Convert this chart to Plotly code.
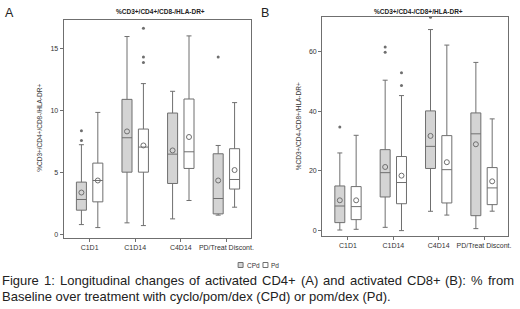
import plotly.graph_objects as go

categories = ["C1D1", "C1D14", "C4D14", "PD/Treat Discont."]

# Panel A: %CD3+/CD4+/CD8-/HLA-DR+
a_cpd_q1 = [1.99, 5.05, 4.14, 1.69]
a_cpd_med = [2.85, 7.82, 6.50, 2.93]
a_cpd_q3 = [4.25, 10.91, 9.81, 6.53]
a_cpd_lo = [0.83, 0.97, 1.29, 1.59]
a_cpd_hi = [7.26, 15.97, 11.56, 7.20]
a_cpd_mean = [3.41, 8.33, 6.80, 4.38]
a_cpd_out = [[7.6, 8.39], [], [], [14.33]]

a_pd_q1 = [2.66, 5.05, 5.35, 3.69]
a_pd_med = [4.38, 7.07, 6.69, 4.46]
a_pd_q3 = [5.78, 8.52, 10.94, 6.94]
a_pd_lo = [0.59, 0.75, 2.77, 2.23]
a_pd_hi = [9.86, 12.18, 16.02, 10.65]
a_pd_mean = [4.38, 7.20, 7.88, 5.22]
a_pd_out = [[], [13.87, 14.33, 16.64], [], []]

# Panel B: %CD3+/CD4-/CD8+/HLA-DR+
b_cpd_q1 = [2.68, 11.26, 20.8, 5.0]
b_cpd_med = [8.24, 19.4, 28.2, 32.4]
b_cpd_q3 = [14.95, 27.1, 40.07, 39.4]
b_cpd_lo = [0.2, 1.1, 6.47, 0.67]
b_cpd_hi = [26.0, 50.35, 67.3, 56.3]
b_cpd_mean = [10.15, 21.3, 31.7, 28.9]
b_cpd_out = [[34.7], [59.7, 61.5], [71.4], []]

b_pd_q1 = [3.68, 9.0, 9.26, 8.7]
b_pd_med = [8.04, 16.1, 20.4, 14.3]
b_pd_q3 = [14.74, 24.8, 31.8, 21.1]
b_pd_lo = [0.44, 0.0, 5.2, 6.5]
b_pd_hi = [31.9, 45.2, 62.1, 37.4]
b_pd_mean = [10.15, 18.4, 22.9, 16.5]
b_pd_out = [[], [48.6, 52.8], [], []]

title_a = "%CD3+/CD4+/CD8-/HLA-DR+"
title_b = "%CD3+/CD4-/CD8+/HLA-DR+"
legend_names = ["CPd", "Pd"]
caption_1 = "Figure 1: Longitudinal changes of activated CD4+ (A) and activated CD8+ (B): % from"
caption_2 = "Baseline over treatment with cyclo/pom/dex (CPd) or pom/dex (Pd)."

LINE = "#6f6f6f"
CPD_FILL = "#d4d4d4"
PD_FILL = "#ffffff"
OFF = 0.18
BW = 0.22
FONT = "Liberation Sans, Arial"

fig = go.Figure()

def add_panel(xa, ya, groups):
    for name, fill, sign, q1, med, q3, lo, hi, mean, outs in groups:
        xs = [i + sign * OFF for i in range(len(categories))]
        fig.add_trace(go.Box(
            x=xs, q1=q1, median=med, q3=q3, lowerfence=lo, upperfence=hi,
            name=name, fillcolor=fill, width=BW, whiskerwidth=0.5,
            line=dict(color=LINE, width=1), boxpoints=False,
            xaxis=xa, yaxis=ya, showlegend=False, hoverinfo="skip"))
        fig.add_trace(go.Scatter(
            x=xs, y=mean, mode="markers", xaxis=xa, yaxis=ya,
            marker=dict(symbol="circle-open", size=5, color=LINE, line=dict(width=1)),
            showlegend=False, hoverinfo="skip"))
        ox, oy = [], []
        for i, vals in enumerate(outs):
            for v in vals:
                ox.append(i + sign * OFF)
                oy.append(v)
        fig.add_trace(go.Scatter(
            x=ox, y=oy, mode="markers", xaxis=xa, yaxis=ya,
            marker=dict(symbol="circle", size=3, color=LINE),
            showlegend=False, hoverinfo="skip"))

add_panel("x", "y", [
    ("CPd", CPD_FILL, -1, a_cpd_q1, a_cpd_med, a_cpd_q3, a_cpd_lo, a_cpd_hi, a_cpd_mean, a_cpd_out),
    ("Pd", PD_FILL, 1, a_pd_q1, a_pd_med, a_pd_q3, a_pd_lo, a_pd_hi, a_pd_mean, a_pd_out),
])
add_panel("x2", "y2", [
    ("CPd", CPD_FILL, -1, b_cpd_q1, b_cpd_med, b_cpd_q3, b_cpd_lo, b_cpd_hi, b_cpd_mean, b_cpd_out),
    ("Pd", PD_FILL, 1, b_pd_q1, b_pd_med, b_pd_q3, b_pd_lo, b_pd_hi, b_pd_mean, b_pd_out),
])

W, H = 520, 309
tickfont = dict(family=FONT, size=7, color="#333333")
xcommon = dict(tickmode="array", tickvals=[0, 1, 2, 3], ticktext=categories,
               range=[-0.57, 3.53], showline=True, linecolor=LINE, linewidth=1,
               mirror=True, ticks="outside", ticklen=3, tickcolor=LINE,
               showgrid=False, zeroline=False, tickfont=tickfont)
ycommon = dict(showline=True, linecolor=LINE, linewidth=1, mirror=True,
               ticks="outside", ticklen=3, tickcolor=LINE, showgrid=False,
               zeroline=False, tickfont=tickfont)

fig.update_layout(
    width=W, height=H, margin=dict(l=0, r=0, t=0, b=0),
    paper_bgcolor="white", plot_bgcolor="white", showlegend=False,
    xaxis=dict(domain=[64 / W, 252 / W], anchor="y", **xcommon),
    yaxis=dict(domain=[1 - 238 / H, 1 - 20 / H], anchor="x", range=[-0.25, 17.3],
               tickvals=[0, 5, 10, 15], **ycommon),
    xaxis2=dict(domain=[324 / W, 511 / W], anchor="y2", **xcommon),
    yaxis2=dict(domain=[1 - 236 / H, 1 - 16.7 / H], anchor="x2", range=[-1.8, 71.6],
                tickvals=[0, 20, 40, 60], **ycommon),
)

def px(xp):
    return xp / W

def py(yp):
    return 1 - yp / H

anns = []
shapes = []

def ann(text, x, y, size, xanchor="center", color="#222222", angle=0):
    anns.append(dict(text=text, x=px(x), y=py(y), xref="paper", yref="paper",
                     xanchor=xanchor, yanchor="middle", showarrow=False, textangle=angle,
                     borderpad=0, font=dict(family=FONT, size=size, color=color)))

ann("<b>" + title_a + "</b>", 161, 12, 6.5)
ann("<b>" + title_b + "</b>", 421, 12, 6.5)
ann(title_a, 40, 128, 6.5, color="#333333", angle=-90)
ann(title_b, 300, 126, 6.5, color="#333333", angle=-90)
ann("A", 10, 13.5, 12.5)
ann("B", 267, 13.5, 12.5)

# legend (small squares + labels)
for (cx, tx), name, fill in zip([(242, 247), (267, 272)], legend_names, [CPD_FILL, PD_FILL]):
    shapes.append(dict(type="rect", xref="paper", yref="paper",
                       x0=px(cx - 2.5), x1=px(cx + 2.5), y0=py(267.5), y1=py(262.5),
                       line=dict(color=LINE, width=1), fillcolor=fill))
    ann(name, tx, 265, 6.5, xanchor="left", color="#333333")

# caption: justified first line, left-aligned second line (Arial metrics)
AW = {' ': 278, ':': 278, '(': 333, ')': 333, '+': 584, '%': 889, '/': 278, '.': 278, '-': 333,
      'a': 556, 'b': 556, 'c': 500, 'd': 556, 'e': 556, 'f': 278, 'g': 556, 'h': 556, 'i': 222,
      'j': 222, 'k': 500, 'l': 222, 'm': 833, 'n': 556, 'o': 556, 'p': 556, 'q': 556, 'r': 333,
      's': 500, 't': 278, 'u': 556, 'v': 500, 'w': 722, 'x': 500, 'y': 500, 'z': 500,
      'A': 667, 'B': 667, 'C': 722, 'D': 722, 'F': 611, 'L': 556, 'P': 667}

def tw(s, size):
    return sum(AW.get(ch, 556) for ch in s) / 1000 * size

CAP = 13
words = caption_1.split(" ")
x0, x1 = 1.0, 516.0
gap = (x1 - x0 - sum(tw(w, CAP) for w in words)) / (len(words) - 1)
xc = x0
for w in words:
    ann(w, xc, 280, CAP, xanchor="left")
    xc += tw(w, CAP) + gap
ann(caption_2, 1, 296, CAP, xanchor="left")

fig.update_layout(annotations=anns, shapes=shapes)

fig.write_html("out.html", config={"displayModeBar": False},
               post_script="document.body.style.margin='0';")
